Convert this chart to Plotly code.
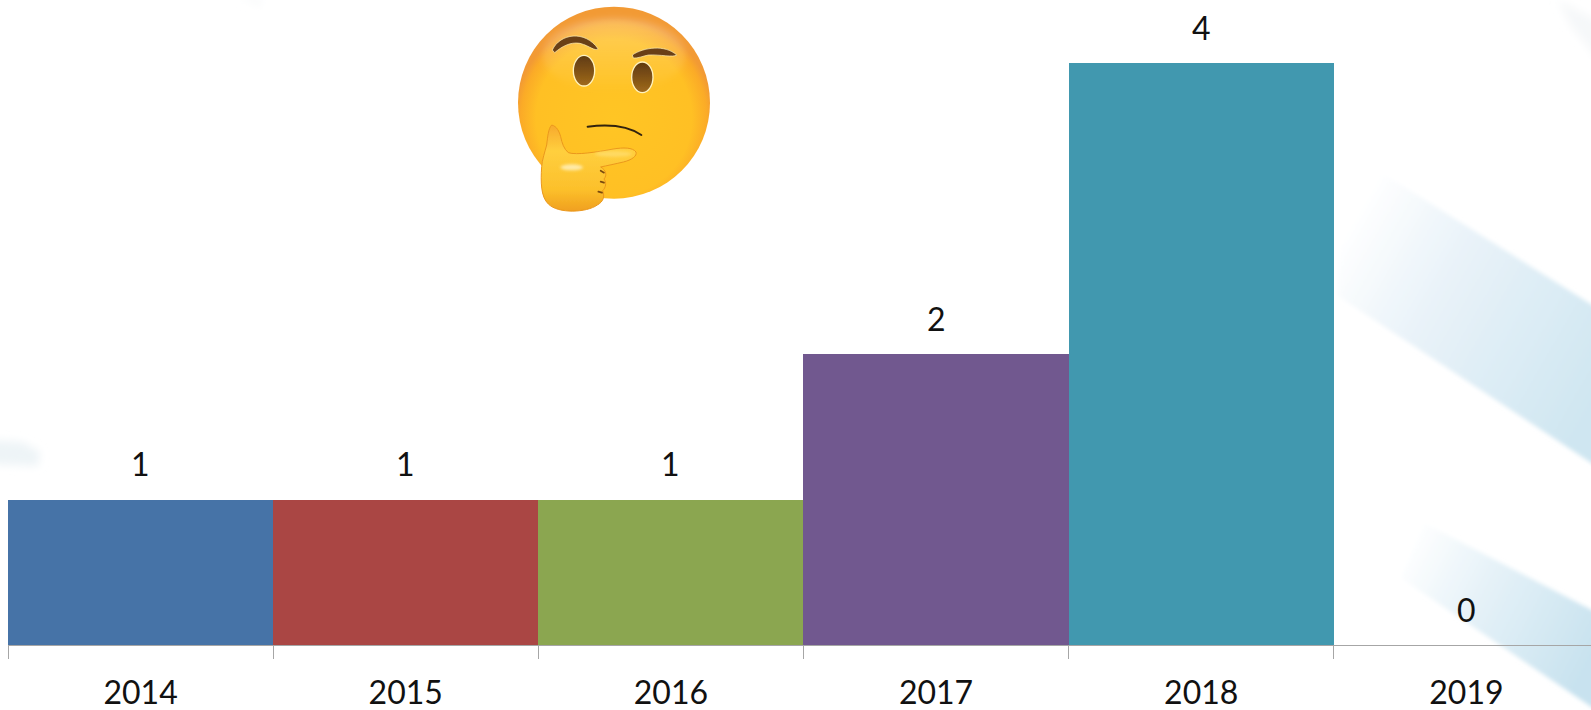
import base64
import plotly.graph_objects as go

years = ["2014", "2015", "2016", "2017", "2018", "2019"]
counts = [1, 1, 1, 2, 4, 0]
bar_colors = ["#4673A7", "#AA4644", "#8BA650", "#71588F", "#4198AF", "#4198AF"]

W, H = 1591, 710
M_L, M_B = 8, 65

background_svg = f"""<svg xmlns="http://www.w3.org/2000/svg" width="{W}" height="{H}" viewBox="0 0 {W} {H}">
<defs>
<linearGradient id="b1" gradientUnits="userSpaceOnUse" x1="1340" y1="240" x2="1600" y2="390">
<stop offset="0" stop-color="#ffffff"/><stop offset="0.35" stop-color="#eaf3f9"/><stop offset="1" stop-color="#cfe6f1"/></linearGradient>
<linearGradient id="b2" gradientUnits="userSpaceOnUse" x1="1405" y1="550" x2="1595" y2="650">
<stop offset="0" stop-color="#ffffff"/><stop offset="0.4" stop-color="#e6f2f8"/><stop offset="1" stop-color="#c8e2ef"/></linearGradient>
<filter id="s" x="-20%" y="-20%" width="140%" height="140%"><feGaussianBlur stdDeviation="2"/></filter>
<filter id="s2" x="-50%" y="-50%" width="200%" height="200%"><feGaussianBlur stdDeviation="4"/></filter>
</defs>
<rect width="{W}" height="{H}" fill="#ffffff"/>
<path d="M1340 165 L1374 168 L1640 335 L1640 495 L1338 296 Z" fill="url(#b1)" filter="url(#s)"/>
<path d="M1424 523 L1640 635 L1640 740 L1401 578 Z" fill="url(#b2)" filter="url(#s)"/>
<path d="M1558 0 L1600 22 L1600 62 L1570 25 Z" fill="#f6f8f9" filter="url(#s2)"/>
<path d="M-10 440 L22 442 L40 452 L38 466 L-10 464 Z" fill="#eef4f7" filter="url(#s2)"/>
<path d="M235 -4 L262 -4 L262 8 Z" fill="#fafbfc" filter="url(#s2)"/>
</svg>"""

emoji_svg = """<svg xmlns="http://www.w3.org/2000/svg" width="260" height="230" viewBox="0 0 780 690">
<defs>
<radialGradient id="f" cx="50%" cy="58%" r="52%">
<stop offset="0" stop-color="#ffc524"/><stop offset="0.78" stop-color="#ffc024"/><stop offset="0.93" stop-color="#fbab27"/><stop offset="1" stop-color="#f29a34"/></radialGradient>
<linearGradient id="h" x1="0" y1="0" x2="0" y2="1">
<stop offset="0" stop-color="#ffffff" stop-opacity="0.25"/><stop offset="1" stop-color="#ffffff" stop-opacity="0"/></linearGradient>
<linearGradient id="e" x1="0" y1="0" x2="0" y2="1">
<stop offset="0" stop-color="#5f3a10"/><stop offset="1" stop-color="#a06a1c"/></linearGradient>
<linearGradient id="k" x1="0" y1="0" x2="0" y2="1">
<stop offset="0" stop-color="#f7a92c"/><stop offset="0.3" stop-color="#ffcf3e"/><stop offset="0.75" stop-color="#fcc02b"/><stop offset="1" stop-color="#f0a01f"/></linearGradient>
<filter id="b"><feGaussianBlur stdDeviation="1.2"/></filter>
<filter id="b2" x="-30%" y="-30%" width="160%" height="160%"><feGaussianBlur stdDeviation="9"/></filter>
<filter id="b3" x="-30%" y="-50%" width="160%" height="200%"><feGaussianBlur stdDeviation="5"/></filter>
</defs>
<circle cx="402" cy="308" r="288" fill="url(#f)"/>
<ellipse cx="402" cy="165" rx="215" ry="110" fill="url(#h)" filter="url(#b2)"/>
<g filter="url(#b)">
<path d="M217 150 C240 100 315 90 354 146 C345 155 330 138 300 130 C270 125 245 140 224 158 Z" fill="#6b3f14" stroke="#fff3c0" stroke-width="2"/>
<path d="M457 165 C490 142 555 133 590 165 C580 173 540 163 505 165 C490 168 470 176 460 174 Z" fill="#6b3f14" stroke="#fff3c0" stroke-width="2"/>
<ellipse cx="312" cy="212" rx="32" ry="46" fill="url(#e)" stroke="#fff3c0" stroke-width="4"/>
<ellipse cx="487" cy="232" rx="32" ry="46" fill="url(#e)" stroke="#fff3c0" stroke-width="4"/>
<path d="M323 380 C385 372 445 378 484 405" fill="none" stroke="#33240d" stroke-width="6" stroke-linecap="round"/>
<path d="M215 375 C230 378 238 395 242 410 C246 430 252 447 265 458 C290 466 350 456 400 447 C430 442 458 442 468 456 C472 468 455 480 430 486 C405 492 380 497 362 501 C378 510 382 525 372 537 C380 548 378 562 368 572 C375 590 370 605 352 615 C320 638 235 642 205 612 C182 590 182 545 185 500 C186 480 195 455 200 435 C203 410 205 385 215 375 Z" fill="url(#k)" stroke="#ea971c" stroke-width="3"/>
<ellipse cx="275" cy="502" rx="34" ry="9" fill="#fff6cf" opacity="0.75" filter="url(#b3)"/>
<ellipse cx="400" cy="462" rx="55" ry="8" fill="#ffe37f" opacity="0.6" filter="url(#b3)"/>
<path d="M362 512 L372 518 M362 545 L372 548 M355 575 L366 578" stroke="#7a4a10" stroke-width="5" stroke-linecap="round"/>
</g>
</svg>"""

def uri(svg):
    return "data:image/svg+xml;base64," + base64.b64encode(svg.encode()).decode()

fig = go.Figure(go.Bar(x=years, y=counts, marker=dict(color=bar_colors, line_width=0), width=1.0, hoverinfo="x+y"))

for i, n in enumerate(counts):
    fig.add_annotation(x=i, y=n, text=str(n), showarrow=False, yshift=36,
                       font=dict(family="Lato, Carlito, sans-serif", size=32, color="#111111"))

plot_w = W - M_L
plot_h = H - M_B
fig.update_layout(
    width=W, height=H, margin=dict(l=M_L, r=0, t=0, b=M_B, pad=0),
    paper_bgcolor="rgba(0,0,0,0)", plot_bgcolor="rgba(0,0,0,0)",
    showlegend=False, bargap=0,
    font=dict(family="Lato, Carlito, sans-serif", size=32, color="#111111"),
    xaxis=dict(type="category", range=[-0.5, 5.47], tickson="boundaries", ticks="outside",
               ticklen=13, tickwidth=1, tickcolor="#a6a6a6", showline=True, linecolor="#a6a6a6",
               linewidth=1.4, showgrid=False, zeroline=False, fixedrange=True, ticklabelstandoff=19,
               automargin=False,
               tickfont=dict(family="Lato, Carlito, sans-serif", size=32, color="#111111")),
    yaxis=dict(range=[0, 4.434], visible=False, fixedrange=True),
    images=[
        dict(source=uri(background_svg), xref="paper", yref="paper", x=-M_L / plot_w, y=1,
             sizex=W / plot_w, sizey=H / plot_h, xanchor="left", yanchor="top",
             sizing="stretch", layer="below"),
        dict(source=uri(emoji_svg), xref="paper", yref="paper", x=(480 - M_L) / plot_w, y=1,
             sizex=260 / plot_w, sizey=230 / plot_h, xanchor="left", yanchor="top",
             sizing="stretch", layer="above"),
    ],
)
fig.write_html("out.html", config=dict(displayModeBar=False),
               post_script="document.body.style.margin='0';document.body.style.overflow='hidden';")
